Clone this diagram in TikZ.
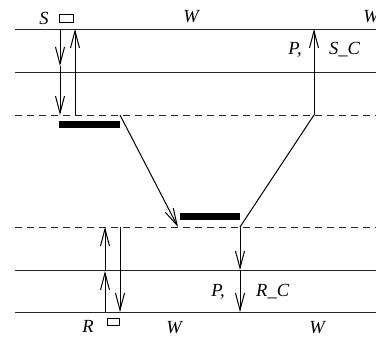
\documentclass[tikz,border=0pt]{standalone}
\usepackage{fontspec}
\setmainfont{Liberation Serif}
\usetikzlibrary{arrows.meta}
\begin{document}
\begin{tikzpicture}[x=1pt,y=-1pt,
  lvl/.style={line width=1pt,black!85},
  dlvl/.style={line width=1pt,black!85,dash pattern=on 7pt off 5pt},
  ar/.style={line width=1pt,-{Straight Barb[length=17pt,width=9pt,line width=1pt]}},
  pl/.style={line width=1pt},
  bar/.style={fill=black,draw=none},
  lab/.style={font=\fontsize{18.5}{18.5}\selectfont\itshape,inner sep=0pt}]
\useasboundingbox (0,0) rectangle (376,343);
% levels
\draw[lvl] (15,29) -- (376,29);
\draw[lvl] (15,72) -- (376,72);
\draw[dlvl] (15,115) -- (376,115);
\draw[dlvl] (15,227) -- (376,227);
\draw[lvl] (15,270) -- (376,270);
\draw[lvl] (15,312) -- (376,312);
% coordinates
\coordinate (a1) at (60,29); \coordinate (a2) at (60,66); \coordinate (a3) at (60,115);
\coordinate (b1) at (75,115); \coordinate (b2) at (75,29);
\coordinate (d1) at (120,115); \coordinate (d2) at (178,227);
\coordinate (e1) at (240,227); \coordinate (e2) at (314,115); \coordinate (e3) at (314,29);
\coordinate (f1) at (240,270); \coordinate (f2) at (240,312);
\coordinate (g1) at (105,312); \coordinate (g2) at (105,271); \coordinate (g3) at (105,227);
\coordinate (h1) at (120,227); \coordinate (h2) at (120,312);
% bars
\fill[bar] (59,121) rectangle (120,128);
\fill[bar] (180,213) rectangle (240,220);
% arrows
\draw[ar] (a1) -- (a2);
\draw[ar] (a2) -- (a3);
\draw[ar] (b1) -- (b2);
\draw[ar] (d1) -- (d2);
\draw[pl] (e1) -- (e2);
\draw[ar] (e2) -- (e3);
\draw[ar] (e1) -- (f1);
\draw[ar] (f1) -- (f2);
\draw[ar] (g1) -- (g2);
\draw[ar] (g2) -- (g3);
\draw[ar] (h1) -- (h2);
% labels
\node[lab] (S) at (44,18) {S};
\draw[line width=0.8pt] (59.5,14.5) rectangle (73,22) coordinate (srect);
\node[lab] (W1) at (191,17) {W};
\node[lab] (W2) at (371,17) {W};
\node[lab,anchor=east] (P1) at (302,50) {P,};
\node[lab,anchor=west] (SC) at (329,50) {S\_C};
\node[lab] (R) at (88,326) {R};
\draw[line width=0.8pt] (107.5,318.5) rectangle (119,325.5) coordinate (rrect);
\node[lab] (W3) at (174,328) {W};
\node[lab] (W4) at (317,328) {W};
\node[lab,anchor=east] (P2) at (225,292) {P,};
\node[lab,anchor=west] (RC) at (256,292) {R\_C};
\end{tikzpicture}
\end{document}
